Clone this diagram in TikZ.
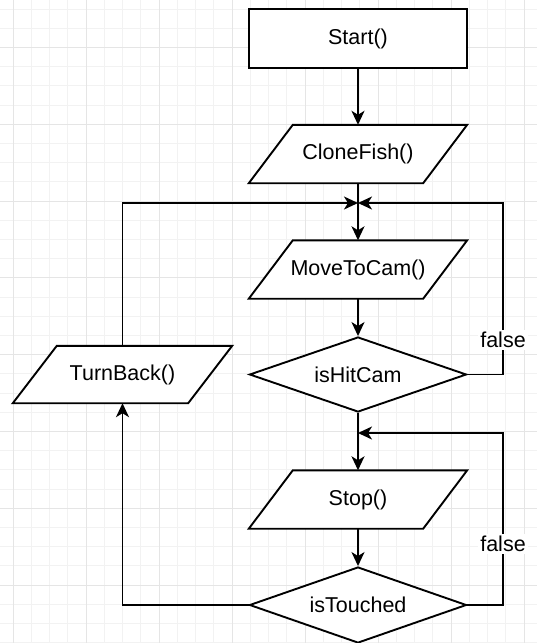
\documentclass[tikz,border=0pt]{standalone}
\usepackage{fontspec}
\setmainfont{Liberation Sans}
\usetikzlibrary{shapes.geometric,arrows.meta}
\pgfdeclarelayer{gridlayer}
\pgfdeclarelayer{shapelayer}
\pgfsetlayers{gridlayer,shapelayer,main}
\tikzset{
  conn/.style={line width=1.9pt, -{Stealth[length=14pt,width=13pt,inset=4pt]}},
  procbox/.style={rectangle, draw, line width=1.9pt, fill=white, minimum width=218pt, minimum height=59pt, inner sep=0pt},
  iobox/.style={rectangle, draw=none, minimum width=218pt, minimum height=58pt, inner sep=0pt},
  decision/.style={diamond, draw, line width=1.9pt, fill=white, minimum width=217pt, minimum height=75pt, inner sep=0pt, aspect=2.9},
  lbl/.style={fill=white, inner sep=2pt},
  iooutline/.style={draw, line width=1.9pt, fill=white, line join=miter},
  gridminor/.style={line width=0.8pt, black!5},
  gridmajor/.style={line width=0.8pt, black!10},
}
\begin{document}
\begin{tikzpicture}[x=1pt,y=-1pt, font=\fontsize{21.5}{25}\selectfont]
\useasboundingbox (0,0) rectangle (537,643);

% grid
\begin{pgfonlayer}{gridlayer}
  \fill[white] (0,0) rectangle (537,643);
  \foreach \i in {0,...,28} { \draw[gridminor] ({13+18.25*\i},0) -- ({13+18.25*\i},643); }
  \foreach \j in {0,...,33} { \draw[gridminor] (0,{9+19.2*\j}) -- (537,{9+19.2*\j}); }
  \foreach \i in {0,...,7} { \draw[gridmajor] ({13+73*\i},0) -- ({13+73*\i},643); }
  \foreach \j in {0,...,8} { \draw[gridmajor] (0,{47.4+76.8*\j}) -- (537,{47.4+76.8*\j}); }
\end{pgfonlayer}

% nodes
\node[procbox] (start) at (358,38.5) {Start()};
\node[iobox] (clone) at (358,154) {CloneFish()};
\coordinate (j1) at (358,203);
\node[iobox] (move) at (358,269.5) {MoveToCam()};
\node[decision] (hit) at (358,374.5) {isHitCam};
\node[iobox, minimum width=219pt, minimum height=57pt] (turn) at (122.5,374.5) {TurnBack()};
\coordinate (j2) at (358,433);
\node[iobox] (stop) at (358,499.5) {Stop()};
\node[decision, minimum height=76pt] (touch) at (358,605) {isTouched};
\coordinate (r1) at (503,374.5);
\coordinate (r2) at (503,605);

% parallelogram outlines
\begin{pgfonlayer}{shapelayer}
  \foreach \n in {clone,move,turn,stop} {
    \draw[iooutline] ([xshift=44pt]\n.north west) -- (\n.north east)
      -- ([xshift=-44pt]\n.south east) -- (\n.south west) -- cycle;
  }
\end{pgfonlayer}

% connectors
\draw[conn] (start.south) -- (clone.north);
\draw[conn] (clone.south) -- (move.north);
\draw[conn] (turn.north) |- (j1);
\draw[conn] (hit.east) -- (r1) -- node[lbl, pos=0.2] {false} (r1 |- j1) -- (j1);
\draw[conn] (move.south) -- (hit.north);
\draw[conn] (hit.south) -- (stop.north);
\draw[conn] (stop.south) -- (touch.north);
\draw[conn] (touch.east) -- (r2) -- node[lbl, pos=0.355] {false} (r2 |- j2) -- (j2);
\draw[conn] (touch.west) -| (turn.south);
\end{tikzpicture}
\end{document}
